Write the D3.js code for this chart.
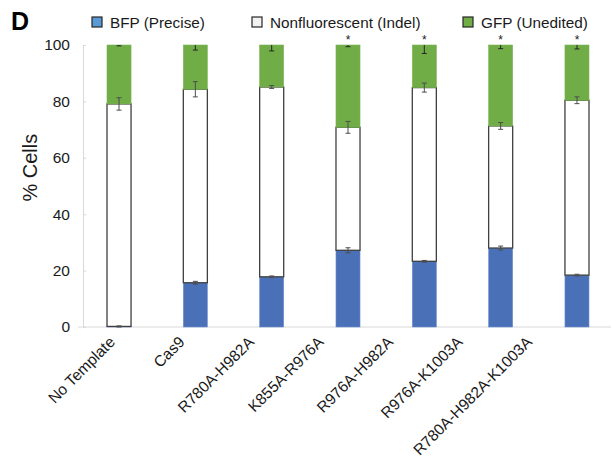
<!DOCTYPE html>
<html lang="en">
<head>
  <meta charset="utf-8">
  <title>% Cells stacked bars</title>
  <script src="https://cdn.jsdelivr.net/npm/d3@7"></script>
  <style>
    body { margin: 0; background: #fff; }
    svg { font-family: "Liberation Sans", Arial, sans-serif; }
  </style>
</head>
<body>
  <div id="chart"></div>
  <script>
    var categories = ["No Template", "Cas9", "R780A-H982A", "K855A-R976A",
      "R976A-H982A", "R976A-K1003A", "R780A-H982A-K1003A"];
    var bfp = [0.2, 15.7, 17.8, 27.2, 23.3, 28.0, 18.4];
    var indel = [78.9, 68.6, 67.3, 43.6, 61.6, 43.3, 62.0];
    var gfp = [20.9, 15.7, 14.9, 29.2, 15.1, 28.7, 19.6];
    var bfpErr = [0.2, 0.5, 0.3, 0.9, 0.3, 0.7, 0.3];
    var indelErr = [2.2, 2.7, 0.5, 2.1, 1.6, 1.2, 1.2];
    var gfpErr = [0.3, 1.8, 2.1, 0.6, 3.0, 1.3, 1.4];
    var stars = ["", "", "", "*", "*", "*", "*"];
    var yTicks = [0, 20, 40, 60, 80, 100];
    var seriesKeys = ["bfp", "indel", "gfp"];
    var legendLabels = ["BFP (Precise)", "Nonfluorescent (Indel)", "GFP (Unedited)"];

    var width = 612, height = 458;
    var svg = d3.select("#chart").append("svg")
      .attr("width", width)
      .attr("height", height);

    var rows = categories.map(function (c, i) {
      return { cat: c, bfp: bfp[i], indel: indel[i], gfp: gfp[i],
        errs: [bfpErr[i], indelErr[i], gfpErr[i]] };
    });

    var x = d3.scaleBand().domain(categories).range([107, 589])
      .paddingInner(0.685).paddingOuter(0);
    var y = d3.scaleLinear().domain([0, 100]).range([327, 45]);
    // tick labels sit on a slightly narrower spread than the bars
    var xLabel = d3.scalePoint().domain(categories).range([116, 533]);

    // baseline
    svg.append("line")
      .attr("x1", 78).attr("x2", 611)
      .attr("y1", y(0)).attr("y2", y(0))
      .style("stroke", "#d9d9d9").style("stroke-width", 1);

    var yAxis = svg.append("g")
      .attr("transform", "translate(83,0)")
      .call(d3.axisLeft(y).tickValues(yTicks).tickSizeInner(-3).tickSizeOuter(0).tickPadding(13));
    yAxis.select(".domain").style("stroke", "#d9d9d9");
    yAxis.selectAll(".tick line").style("stroke", "#d9d9d9");
    yAxis.selectAll(".tick text")
      .style("font-size", "15.5px")
      .style("fill", "#1a1a1a")
      .style("font-family", "Liberation Sans, Arial, sans-serif");

    svg.append("text")
      .attr("transform", "translate(37," + y(56.5) + ") rotate(-90)")
      .attr("text-anchor", "middle")
      .style("font-size", "20px")
      .style("fill", "#1a1a1a")
      .text("% Cells");

    var stacked = d3.stack().keys(seriesKeys)(rows);
    var fills = { bfp: "#4a70b7", indel: "#ffffff", gfp: "#70ad47" };
    var strokes = { bfp: "#6f8fd0", indel: "#3f3f3f", gfp: "#7cb556" };

    svg.append("g").selectAll("g")
      .data(stacked)
      .join("g")
      .each(function (s) {
        d3.select(this).selectAll("rect")
          .data(s)
          .join("rect")
          .attr("x", function (d) { return x(d.data.cat); })
          .attr("width", x.bandwidth())
          .attr("y", function (d) { return y(d[1]); })
          .attr("height", function (d) { return y(d[0]) - y(d[1]); })
          .style("fill", fills[s.key])
          .style("stroke", strokes[s.key])
          .style("stroke-width", s.key == "indel" ? 1.3 : 0.6);
      });

    // error bars, clipped at the top of the plot
    svg.append("clipPath").attr("id", "plotClip")
      .append("rect").attr("x", 0).attr("y", y(100)).attr("width", width).attr("height", 300);

    var errG = svg.append("g").attr("clip-path", "url(#plotClip)");
    stacked.forEach(function (s, k) {
      s.forEach(function (d, i) {
        var cx = x(d.data.cat) + x.bandwidth() / 2;
        var e = d.data.errs[k];
        var y1 = y(d[1] + e), y2 = y(d[1] - e);
        var g = errG.append("g").style("stroke", k == 2 ? "#262626" : "#4d4d4d").style("stroke-width", 1);
        g.append("line").attr("x1", cx).attr("x2", cx).attr("y1", y1).attr("y2", y2);
        g.append("line").attr("x1", cx - 2.5).attr("x2", cx + 2.5).attr("y1", y1).attr("y2", y1);
        g.append("line").attr("x1", cx - 2.5).attr("x2", cx + 2.5).attr("y1", y2).attr("y2", y2);
      });
    });

    // significance stars
    svg.append("g").selectAll("text")
      .data(categories)
      .join("text")
      .attr("x", function (d) { return x(d) + x.bandwidth() / 2; })
      .attr("y", y(100) - 1)
      .attr("text-anchor", "middle")
      .style("font-size", "12px")
      .style("fill", "#1a1a1a")
      .text(function (d, i) { return stars[i]; });

    // category labels
    svg.append("g").selectAll("text")
      .data(categories)
      .join("text")
      .attr("transform", function (d) { return "translate(" + xLabel(d) + ",343) rotate(-45)"; })
      .attr("text-anchor", "end")
      .style("font-size", "15.5px")
      .style("fill", "#1a1a1a")
      .text(function (d) { return d; });

    // panel letter
    svg.append("text")
      .attr("x", 11).attr("y", 30)
      .style("font-size", "25px")
      .style("font-weight", "bold")
      .style("fill", "#000")
      .text("D");

    // legend
    var legendX = [92, 252, 463];
    var legendFill = ["#5b9bd5", "#f2f2f2", "#70ad47"];
    var legend = svg.append("g").selectAll("g")
      .data(legendLabels)
      .join("g")
      .attr("transform", function (d, i) { return "translate(" + legendX[i] + ",17)"; });
    legend.append("rect")
      .attr("width", 10).attr("height", 10)
      .style("fill", function (d, i) { return legendFill[i]; })
      .style("stroke", "#262626")
      .style("stroke-width", 1.2);
    legend.append("text")
      .attr("x", 18).attr("y", 11)
      .style("font-size", "15.3px")
      .style("fill", "#1a1a1a")
      .text(function (d) { return d; });
  </script>
</body>
</html>
